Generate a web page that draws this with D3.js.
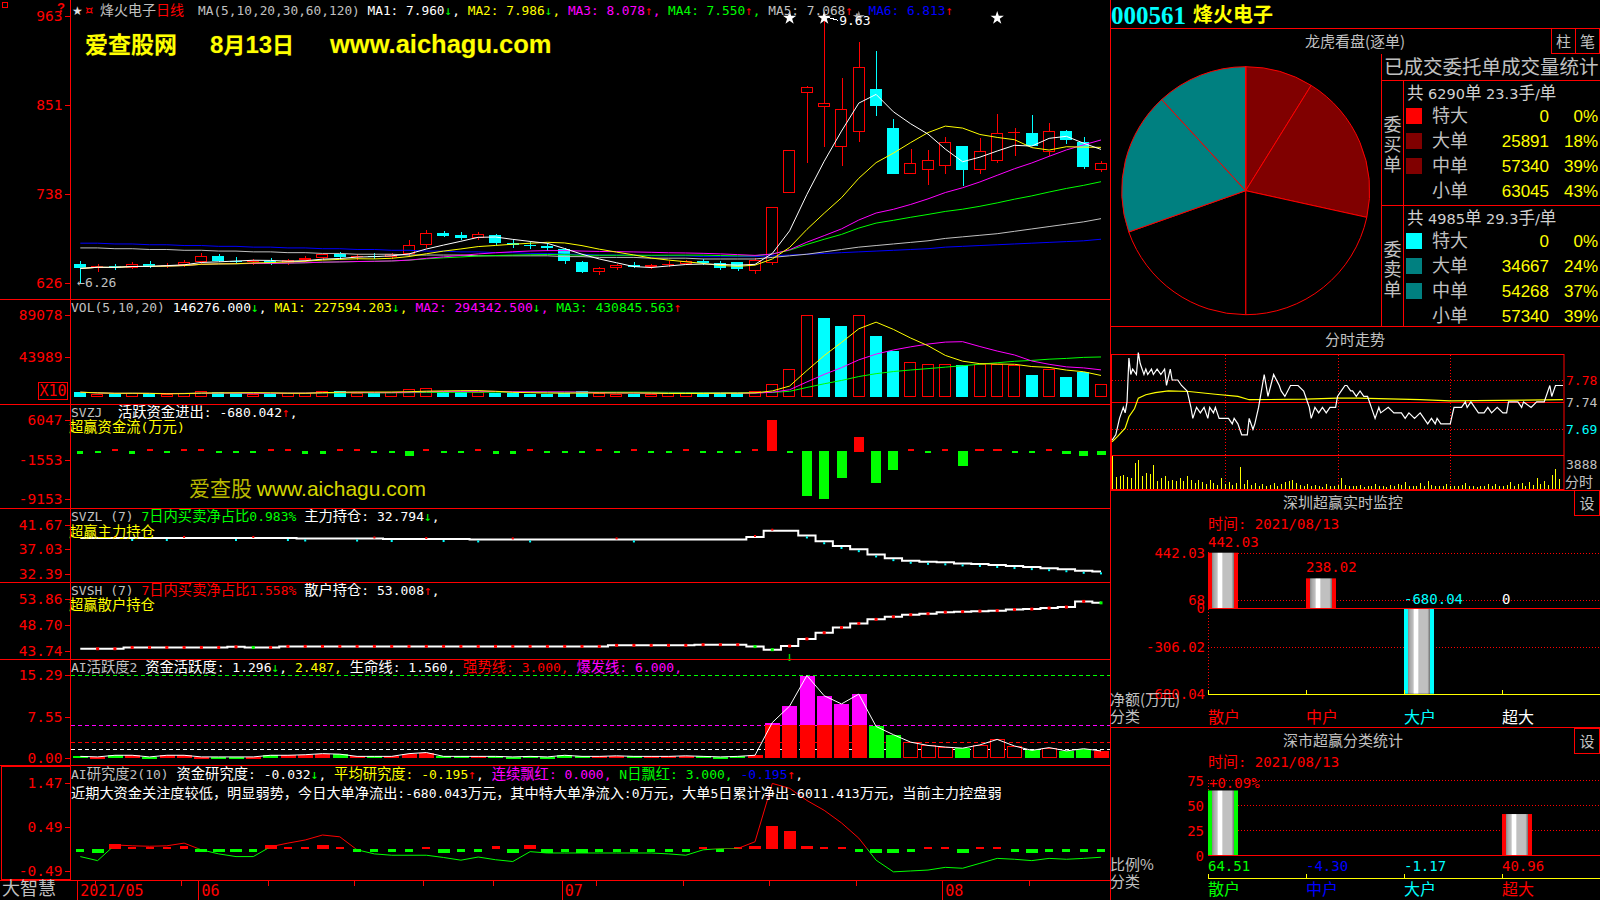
<!DOCTYPE html>
<html><head><meta charset="utf-8">
<script src="https://cdn.jsdelivr.net/npm/d3@7/dist/d3.min.js"></script>
<style>html,body{margin:0;padding:0;background:#000;overflow:hidden}svg{display:block}</style>
</head><body><svg id="chart" width="1600" height="900"></svg>
<script>
// ================= DATA =================
const stockCode = "000561", stockName = "烽火电子";
const monthLabels = ["2021/05","06","07","08"];
const monthStart = [0,7,28,50];
const weekStart = [1,6,11,16,20,24,30,35,40,45,55];

const opens  = [6.50,6.44,6.47,6.45,6.50,6.47,6.49,6.52,6.60,6.54,6.52,6.54,6.51,6.55,6.57,6.62,6.58,6.60,6.58,6.62,6.74,6.89,6.86,6.82,6.86,6.76,6.74,6.72,6.68,6.52,6.40,6.44,6.48,6.46,6.48,6.50,6.53,6.51,6.52,6.41,6.51,7.40,8.66,8.48,7.98,8.17,8.71,8.22,7.64,7.69,7.74,7.99,7.69,7.80,8.16,8.15,7.91,8.18,8.04,7.69];
const highs  = [6.53,6.50,6.50,6.52,6.53,6.51,6.55,6.63,6.62,6.58,6.56,6.57,6.56,6.60,6.64,6.65,6.62,6.63,6.64,6.80,6.93,6.92,6.90,6.90,6.88,6.80,6.78,6.76,6.70,6.54,6.46,6.50,6.52,6.50,6.53,6.55,6.56,6.53,6.52,6.57,7.22,7.94,8.75,9.63,8.85,9.30,9.19,8.33,7.95,7.94,8.10,7.99,8.09,8.39,8.22,8.38,8.28,8.19,8.10,7.80];
const lows   = [6.26,6.40,6.42,6.43,6.45,6.44,6.46,6.50,6.52,6.50,6.48,6.49,6.49,6.52,6.55,6.56,6.55,6.56,6.56,6.60,6.70,6.84,6.80,6.80,6.74,6.70,6.68,6.66,6.50,6.38,6.36,6.42,6.44,6.43,6.46,6.48,6.49,6.42,6.41,6.37,6.49,7.40,7.77,7.98,7.74,8.04,8.37,7.64,7.64,7.50,7.64,7.48,7.64,7.77,7.86,7.99,7.86,8.01,7.70,7.66];
const closes = [6.44,6.47,6.45,6.50,6.47,6.49,6.52,6.60,6.54,6.52,6.54,6.51,6.55,6.57,6.62,6.58,6.60,6.58,6.62,6.74,6.89,6.85,6.82,6.87,6.76,6.74,6.72,6.70,6.54,6.40,6.44,6.48,6.46,6.48,6.50,6.53,6.51,6.44,6.43,6.55,7.22,7.94,8.74,8.53,8.46,8.99,8.49,7.64,7.77,7.81,8.04,7.69,7.93,8.16,8.17,7.99,8.18,8.06,7.72,7.78];
const ma60  = [6.70,6.70,6.69,6.69,6.68,6.68,6.67,6.67,6.66,6.66,6.65,6.65,6.64,6.64,6.63,6.63,6.62,6.62,6.62,6.61,6.61,6.61,6.61,6.60,6.60,6.60,6.60,6.60,6.59,6.59,6.58,6.58,6.58,6.57,6.57,6.57,6.56,6.56,6.56,6.56,6.58,6.60,6.62,6.65,6.68,6.71,6.73,6.75,6.77,6.79,6.82,6.84,6.86,6.88,6.91,6.94,6.97,7.00,7.03,7.07];
const ma120 = [6.76,6.76,6.75,6.75,6.74,6.74,6.73,6.73,6.72,6.72,6.71,6.71,6.70,6.70,6.69,6.69,6.68,6.68,6.67,6.67,6.66,6.66,6.65,6.65,6.64,6.64,6.63,6.63,6.62,6.62,6.61,6.61,6.61,6.60,6.60,6.60,6.59,6.59,6.59,6.59,6.60,6.61,6.62,6.63,6.64,6.65,6.66,6.67,6.68,6.69,6.71,6.72,6.73,6.74,6.75,6.76,6.77,6.78,6.79,6.81];
const priceTicks = [9.63,8.51,7.38,6.26];
const maLegend = [["MA1: 7.960","↓"],["MA2: 7.986","↓"],["MA3: 8.078","↑"],["MA4: 7.550","↑"],["MA5: 7.068","↑"],["MA6: 6.813","↑"]];
const topMarks = [41,43,53];
const grayMarks = [45];

const volumes = [52000,38000,30000,42000,35000,30000,45000,60000,52000,40000,38000,35000,42000,48000,70000,65000,45000,40000,50000,85000,96000,60000,52000,55000,48000,40000,38000,35000,45000,60000,42000,38000,35000,36000,40000,42000,38000,45000,40000,60000,146000,303000,887000,853000,775000,887000,663000,495000,382000,360000,360000,349000,360000,360000,349000,236000,303000,214000,270000,146276];
const volTicks = [890780,439890];
const volLegend = [["VOL(5,10,20) ",""],["146276.000","↓"],["MA1: 227594.203","↓"],["MA2: 294342.500","↓"],["MA3: 430845.563","↑"]];

const svzj = [-500,-150,150,-500,150,-150,180,200,-150,-150,-150,150,150,-500,-500,150,150,-150,-150,-1000,250,-150,-150,150,-500,-500,150,-150,-150,-400,150,-150,150,-150,-150,150,-150,-400,-150,150,6000,-150,-8590,-9150,-5280,2870,-6250,-3720,150,-150,150,-2900,300,300,-150,-300,150,-600,-1000,-680];
const svzjTicks = [6047,-1553,-9153];

const svzl = [39.12,39.12,39.13,39.12,39.12,39.11,39.12,39.12,39.12,39.11,39.12,39.12,39.11,39.02,39.02,39.02,39.01,39.02,38.92,38.92,38.93,38.92,38.92,38.84,38.84,38.85,38.84,38.84,38.84,38.84,38.84,38.85,38.84,38.84,38.84,38.84,38.84,38.84,38.84,39.30,40.50,40.50,39.60,38.50,37.60,37.00,36.00,35.30,34.80,34.60,34.50,34.30,34.20,34.00,33.80,33.60,33.40,33.20,32.90,32.79];
const svzlTicks = [41.67,37.03,32.39];
const svsh = [44.08,44.08,44.08,44.34,44.34,44.34,44.34,44.34,44.34,44.45,44.34,44.34,44.54,44.54,44.54,44.54,44.54,44.54,44.54,44.54,44.54,44.54,44.54,44.54,44.54,44.54,44.54,44.54,44.54,44.54,44.54,44.74,44.74,44.74,44.74,44.74,44.87,44.87,44.87,44.50,43.90,44.60,46.00,47.20,48.20,49.00,49.80,50.30,50.70,50.90,51.20,51.30,51.40,51.50,51.70,51.80,52.00,52.20,53.30,53.01];
const svshTicks = [53.86,48.70,43.74];

const active = [0.3,0.2,0.5,0.5,0.2,0.5,0.5,0.2,0.2,0.2,0.2,0.5,0.5,0.6,0.8,0.7,0.3,0.3,0.3,0.8,1.0,0.3,0.3,0.3,0.3,0.2,0.3,0.2,0.5,0.3,0.3,0.4,0.3,0.3,0.3,0.4,0.3,0.2,0.3,0.5,6.5,9.5,15.1,11.4,9.9,11.7,5.77,4.27,2.9,2.3,2.0,1.8,2.4,3.4,2.2,1.4,1.9,1.3,1.7,1.296];
const activeTicks = [15.29,7.55,0];
const activeLevels = [15.29,6.0,3.0,1.56];
const activeSignal = [41];

const research = [-0.03,-0.1,0.1,0.03,0.02,0.02,0.05,-0.08,-0.08,-0.06,-0.03,0.08,0.04,0.03,0.08,0.04,-0.03,-0.03,-0.03,-0.03,0.03,-0.1,-0.03,-0.03,0.05,-0.1,0.07,-0.1,-0.03,-0.1,-0.03,-0.03,-0.03,-0.03,-0.03,-0.03,0.03,-0.03,0.02,0.06,0.5,0.39,0.06,0.02,0.03,-0.03,-0.1,-0.1,-0.03,0.02,0.03,-0.1,0.02,0.02,-0.03,-0.1,-0.03,-0.03,-0.03,-0.032];
const researchAvg = [-0.18,-0.27,0.08,0.06,0.05,0.06,0.12,-0.03,-0.12,-0.18,-0.18,0.04,0.12,0.19,0.30,0.26,-0.03,-0.12,-0.15,-0.15,-0.15,-0.20,-0.26,-0.19,-0.25,-0.29,-0.07,-0.10,-0.10,-0.10,-0.10,-0.10,-0.10,-0.10,-0.12,-0.15,-0.03,0.0,0.0,0.15,1.45,1.34,1.07,0.85,0.57,0.23,-0.26,-0.52,-0.50,-0.48,-0.42,-0.44,-0.33,-0.22,-0.24,-0.27,-0.22,-0.24,-0.22,-0.195];
const researchTicks = [1.47,0.49,-0.49];
const researchNote = "近期大资金关注度较低，明显弱势，今日大单净流出:-680.043万元，其中特大单净流入:0万元，大单5日累计净出-6011.413万元，当前主力控盘弱";

// right column
const orderLabels = ["特大","大单","中单","小单"];
const buyOrders = [0,25891,57340,63045];
const buyPct = ["0%","18%","39%","43%"];
const sellOrders = [0,34667,54268,57340];
const sellPct = ["0%","24%","37%","39%"];
const buySummary = "共 6290单 23.3手/单";
const sellSummary = "共 4985单 29.3手/单";

const tickMin   = [0,2,4,6,7,8,9,10,11,13,14,15,17,18,19,21,22,24,26,28,29,31,32,35,37,40,42,43,45,47,49,51,52,54,55,57,62,64,65,67,69,72,73,75,76,78,80,81,83,86,89,90,92,95,99,102,103,105,106,108,110,112,114,116,119,120,122,124,125,127,128,130,132,134,136,138,140,142,143,147,150,154,156,158,161,164,166,168,170,172,173,175,180,182,186,188,189,191,193,195,198,200,202,205,208,210,211,216,218,219,223,226,230,233,234,236,240];
const tickPrice = [7.67,7.68,7.71,7.73,7.72,7.74,7.82,7.79,7.80,7.79,7.83,7.81,7.79,7.80,7.79,7.80,7.79,7.80,7.79,7.80,7.77,7.80,7.78,7.78,7.77,7.76,7.73,7.71,7.73,7.72,7.73,7.71,7.73,7.72,7.73,7.71,7.71,7.70,7.71,7.70,7.68,7.68,7.71,7.69,7.70,7.73,7.77,7.79,7.75,7.79,7.77,7.76,7.75,7.77,7.77,7.76,7.75,7.73,7.71,7.73,7.72,7.73,7.72,7.73,7.73,7.75,7.76,7.77,7.77,7.76,7.76,7.75,7.76,7.75,7.75,7.73,7.71,7.73,7.72,7.73,7.72,7.72,7.71,7.72,7.71,7.72,7.71,7.70,7.71,7.70,7.71,7.70,7.70,7.73,7.73,7.74,7.73,7.74,7.73,7.72,7.72,7.73,7.72,7.73,7.72,7.72,7.74,7.74,7.73,7.74,7.73,7.74,7.74,7.77,7.75,7.77,7.77];
const avgMin   = [0,3,7,9,12,14,18,23,30,41,55,67,73,103,120,131,164,180,240];
const avgPrice = [7.667,7.677,7.692,7.713,7.728,7.747,7.753,7.757,7.760,7.759,7.754,7.750,7.744,7.745,7.747,7.747,7.744,7.742,7.744];
const minuteVol = [3888,1400,1500,1600,1400,1300,3000,3400,1500,1900,1700,2800,900,1300,1500,900,1100,900,1300,900,1500,1000,700,1100,800,600,1000,700,500,1300,600,800,500,700,2600,600,1000,500,700,400,600,400,500,700,300,600,800,900,1100,700,500,400,600,300,500,300,250,600,400,300,500,1300,500,300,400,300,500,250,400,300,600,300,400,250,500,300,600,500,800,300,400,300,700,400,900,500,300,400,300,600,300,400,300,500,700,400,300,200,300,400,600,300,600,400,300,500,800,300,600,700,400,800,500,1300,600,900,500,1600,2300,1200];
const intraTicks = [7.78,7.74,7.69];
const intraVolMax = 3888;

const szCats = ["散户","中户","大户","超大"];
const szNet = [442.03,238.02,-680.04,0];
const szTicks = [442.03,68,0,-306.02,-680.04];
const ratioCats = ["散户","中户","大户","超大"];
const ratioVals = [64.51,-4.30,-1.17,40.96];
const ratioTicks = [75,50,25,0];
const dateText = "时间: 2021/08/13";

// ================= STYLE =================
const MONO = "'DejaVu Sans Mono', monospace";
const CJK = "'Noto Sans CJK SC', sans-serif";
const SANS = "'Liberation Sans', Arial, sans-serif";
const GRAY='#c0c0c0', WHITE='#ffffff', YELLOW='#ffff00', MAG='#ff00ff', GREEN='#00ff00', RED='#ff0000', BLUE='#0000ff', CYAN='#00ffff', TEAL='#008080', DRED='#800000';

const svg = d3.select('#chart');
svg.append('rect').attr('width',1600).attr('height',900).attr('fill','#000');
const defs = svg.append('defs');

const CJK_RE = /([\u2E80-\u9FFF\u3000-\u303F\uFF00-\uFFEF]+)/;
function rich(parent, x, y, segs, opt={}) {
  const size = opt.size || 13;
  const t = parent.append('text').attr('x',x).attr('y',y)
    .attr('font-family', opt.font || MONO).attr('font-size', size).style('white-space','pre');
  if (opt.anchor) t.attr('text-anchor', opt.anchor);
  segs.forEach(([s,c]) => s.split(CJK_RE).forEach((p,i) => {
    if (!p) return;
    const ts = t.append('tspan').attr('fill', c).text(p);
    if (i % 2) ts.attr('font-family', CJK).attr('font-size', opt.cjk || size*1.1);
  }));
  return t;
}
function seg(g, x1,y1,x2,y2,col,dash,w) {
  const l = g.append('line').attr('x1',x1).attr('y1',y1).attr('x2',x2).attr('y2',y2)
    .attr('stroke',col||RED).attr('stroke-width',w||1).attr('shape-rendering','crispEdges');
  if (dash) l.attr('stroke-dasharray',dash);
  return l;
}
const sma = (arr,n) => arr.map((_,i) => d3.mean(arr.slice(Math.max(0,i-n+1), i+1)));
const arrowCol = a => a === "↑" ? RED : GREEN;

// ================= LEFT CHARTS =================
const N = closes.length;
const px = d3.scaleBand().domain(d3.range(N)).range([71.65,1109.65]).paddingInner(0.28).paddingOuter(0.14);
const bw = px.bandwidth();
const cx = i => px(i) + bw/2;

function leftAxis(scale, ticks, fmt) {
  const g = svg.append('g').attr('transform','translate(70.5,0)')
    .call(d3.axisLeft(scale).tickValues(ticks).tickSize(6).tickPadding(2).tickFormat(fmt));
  g.select('.domain').remove();
  g.selectAll('line').attr('stroke',RED).attr('shape-rendering','crispEdges');
  g.selectAll('text').attr('fill',RED).attr('font-family',MONO).attr('font-size',14.5);
  return g;
}

// ---- main price panel ----
const yP = d3.scaleLinear().domain([6.26,9.63]).range([282.7,16.3]);
leftAxis(yP, priceTicks, d => (d*100).toFixed(0));
const gC = svg.append('g').attr('shape-rendering','crispEdges');
closes.forEach((c,i) => {
  const o = opens[i], up = c >= o;
  const top = Math.round(yP(Math.max(o,c))), bot = Math.round(yP(Math.min(o,c)));
  const xm = Math.round(cx(i)) + 0.5, x0 = Math.round(px(i));
  const w = Math.round(bw);
  if (up) {
    seg(gC, xm, yP(highs[i]), xm, top, RED);
    seg(gC, xm, bot, xm, yP(lows[i]), RED);
    gC.append('rect').attr('x',x0+0.5).attr('y',top+0.5).attr('width',w-1).attr('height',Math.max(0,bot-top-1))
      .attr('fill','#000').attr('stroke',RED);
    if (bot - top < 2) seg(gC, x0, top+0.5, x0+w, top+0.5, RED);
  } else {
    seg(gC, xm, yP(highs[i]), xm, yP(lows[i]), CYAN);
    gC.append('rect').attr('x',x0).attr('y',top).attr('width',w).attr('height',Math.max(1,bot-top)).attr('fill',CYAN);
  }
});
const maSeries = [[sma(closes,5),WHITE],[sma(closes,10),YELLOW],[sma(closes,20),MAG],[sma(closes,30),GREEN],[ma60,GRAY],[ma120,BLUE]];
const lineP = d3.line().x((d,i)=>cx(i)).y(d=>yP(d));
maSeries.slice().reverse().forEach(([s,col]) => svg.append('path').attr('d',lineP(s)).attr('fill','none').attr('stroke',col).attr('stroke-width',1));

// top marks
topMarks.forEach(i => svg.append('path').attr('transform',`translate(${cx(i)},18)`).attr('d',d3.symbol(d3.symbolStar,55)()).attr('fill',WHITE));
grayMarks.forEach(i => svg.append('path').attr('transform',`translate(${cx(i)},17)`).attr('d',d3.symbol(d3.symbolStar,45)()).attr('fill','#909090'));
const hiIdx = d3.maxIndex(highs), loIdx = d3.minIndex(lows);
seg(svg, cx(hiIdx)+3, yP(highs[hiIdx])+1, cx(hiIdx)+14, yP(highs[hiIdx])+4, WHITE);
rich(svg, cx(hiIdx)+15, yP(highs[hiIdx])+9, [[highs[hiIdx].toFixed(2), WHITE]]);
rich(svg, cx(loIdx)-3, yP(lows[loIdx])+4, [["←"+lows[loIdx].toFixed(2), GRAY]]);

// watermark
const wm = svg.append('g').attr('font-weight','bold').attr('fill',YELLOW).attr('stroke','#202000').attr('stroke-width',1).style('paint-order','stroke');
wm.append('text').attr('x',85).attr('y',53).attr('font-family',CJK).attr('font-size',23).text("爱查股网");
const wm2 = wm.append('text').attr('x',210).attr('y',53).attr('font-family',SANS).attr('font-size',24);
wm2.append('tspan').text("8"); wm2.append('tspan').attr('font-family',CJK).attr('font-size',22).text("月");
wm2.append('tspan').text("13"); wm2.append('tspan').attr('font-family',CJK).attr('font-size',22).text("日");
wm.append('text').attr('x',330).attr('y',53).attr('font-family',SANS).attr('font-size',25.5).text("www.aichagu.com");

// main title row
svg.append('text').attr('x',72).attr('y',14.5).attr('fill','#e0e0e0').attr('font-size',12).attr('font-family','DejaVu Sans').text("★");
svg.append('text').attr('x',85).attr('y',13.5).attr('fill',RED).attr('font-size',13).attr('font-family','DejaVu Sans').text("¤");
rich(svg, 100, 14.5, [[stockName, GRAY],["日线", RED]], {cjk:14});
const maCols = [WHITE,YELLOW,MAG,GREEN,GRAY,BLUE];
const maSegs = [["MA(5,10,20,30,60,120) ", GRAY]];
maLegend.forEach(([t,a],k) => { maSegs.push([t, maCols[k]], [a, arrowCol(a)]); if (k < maLegend.length-1) maSegs.push([", ", maCols[k]]); });
rich(svg, 198, 14.5, maSegs, {size:12.8});
svg.append('rect').attr('x',2.5).attr('y',2.5).attr('width',5).attr('height',5).attr('fill','none').attr('stroke',RED);
svg.append('text').attr('x',57).attr('y',12).attr('fill',RED).attr('font-weight','bold').attr('font-size',13).attr('font-family',SANS).text("?");

// ---- volume panel (colour by close vs previous close) ----
const yV = d3.scaleLinear().domain([0,890780]).range([397,315]);
leftAxis(yV, volTicks, d => Math.round(d/10));
const gV = svg.append('g').attr('shape-rendering','crispEdges');
volumes.forEach((v,i) => {
  const up = i === 0 ? closes[i] >= opens[i] : closes[i] >= closes[i-1];
  const y = Math.round(yV(v)), h = Math.max(1, Math.round(yV(0)) - y), x0 = Math.round(px(i)), w = Math.round(bw);
  if (up) gV.append('rect').attr('x',x0+0.5).attr('y',y+0.5).attr('width',w-1).attr('height',Math.max(1,h-1)).attr('fill','#000').attr('stroke',RED);
  else gV.append('rect').attr('x',x0).attr('y',y).attr('width',w).attr('height',h).attr('fill',CYAN);
});
const lineV = d3.line().x((d,i)=>cx(i)).y(d=>yV(d));
[[sma(volumes,20),GREEN],[sma(volumes,10),MAG],[sma(volumes,5),YELLOW]].forEach(([s,c]) =>
  svg.append('path').attr('d',lineV(s)).attr('fill','none').attr('stroke',c));
const volCols = [GRAY, WHITE, YELLOW, MAG, GREEN];
const vSegs = [];
volLegend.forEach(([t,a],k) => { vSegs.push([t, volCols[k]]); if (a) { vSegs.push([a, arrowCol(a)]); if (k < volLegend.length-1) vSegs.push([", ", volCols[k]]); } });
rich(svg, 71, 311.5, vSegs);
svg.append('rect').attr('x',38.5).attr('y',382.5).attr('width',29).attr('height',17).attr('fill','none').attr('stroke',RED);
svg.append('text').attr('x',53).attr('y',396).attr('text-anchor','middle').attr('fill',RED).attr('font-family',MONO).attr('font-size',15).text("X10");

// ---- SVZJ ----
const yZ = d3.scaleLinear().domain([-9153,6047]).range([499,420]);
leftAxis(yZ, svzjTicks, d => d);
const gZ = svg.append('g').attr('shape-rendering','crispEdges');
svzj.forEach((v,i) => {
  const y0 = yZ(0), y1 = yZ(v);
  const h = Math.max(2, Math.abs(y1-y0));
  const w = v > -600 && v < 300 ? 6 : (Math.abs(v) < 1500 ? 9 : 10);
  gZ.append('rect').attr('x',Math.round(cx(i)-w/2)).attr('y',Math.round(v>0 ? y0-h : y0)).attr('width',w).attr('height',Math.round(h))
    .attr('fill', v > 0 ? RED : GREEN);
});
rich(svg, 71, 416.5, [["SVZJ  ", GRAY],["活跃资金进出: -680.042", WHITE],["↑", RED],[",", WHITE]]);
rich(svg, 69, 432, [["超赢资金流(万元)", YELLOW]]);
const wmk = svg.append('text').attr('x',189).attr('y',496).attr('font-size',21).attr('fill','#d6d600');
wmk.append('tspan').attr('font-family',CJK).attr('fill','#b8b800').text("爱查股 ");
wmk.append('tspan').attr('font-family',SANS).text("www.aichagu.com");

// ---- SVZL ----
const yL = d3.scaleLinear().domain([32.39,41.67]).range([573.5,524.5]);
leftAxis(yL, svzlTicks, d => d.toFixed(2));
svg.append('path').attr('d', d3.line().curve(d3.curveStep).x((d,i)=>cx(i)).y(d=>yL(d))(svzl)).attr('fill','none').attr('stroke',WHITE).attr('stroke-width',2);
svzl.forEach((v,i) => { if (i && v !== svzl[i-1]) svg.append('rect').attr('x',cx(i)-1).attr('y',yL(v)+ (v>svzl[i-1]?-2:1)).attr('width',2).attr('height',2).attr('fill', v>svzl[i-1]?RED:CYAN); });
rich(svg, 71, 521, [["SVZL (7) ", GRAY],["7日内买卖净占比0.983%", GREEN],[" 主力持仓: 32.794", WHITE],["↓", GREEN],[",", WHITE]]);
rich(svg, 69, 536.5, [["超赢主力持仓", YELLOW]]);

// ---- SVSH ----
const yH = d3.scaleLinear().domain([43.74,53.86]).range([650.5,598.5]);
leftAxis(yH, svshTicks, d => d.toFixed(2));
svg.append('path').attr('d', d3.line().curve(d3.curveStep).x((d,i)=>cx(i)).y(d=>yH(d))(svsh)).attr('fill','none').attr('stroke',WHITE).attr('stroke-width',2);
svsh.forEach((v,i) => { if (i) svg.append('rect').attr('x',cx(i)-1.5).attr('y',yH(v)-1.5).attr('width',3).attr('height',3).attr('fill', v>=svsh[i-1]?RED:GREEN); });
rich(svg, 71, 594.5, [["SVSH (7) ", GRAY],["7日内买卖净占比1.558%", RED],[" 散户持仓: 53.008", WHITE],["↑", RED],[",", WHITE]]);
rich(svg, 69, 610, [["超赢散户持仓", YELLOW]]);

// ---- AI活跃度2 ----
const yA = d3.scaleLinear().domain([0,15.29]).range([758,674.5]);
leftAxis(yA, activeTicks, d => d.toFixed(2));
const levelCols = [GREEN, MAG, RED, WHITE];
activeLevels.forEach((lv,k) => seg(svg, 71, Math.round(yA(lv))+0.5, 1110, Math.round(yA(lv))+0.5, levelCols[k], "4,3"));
const gA = svg.append('g').attr('shape-rendering','crispEdges');
active.forEach((v,i) => {
  const up = closes[i] >= opens[i];
  const x0 = Math.round(px(i)), w = Math.round(bw+3), xs = x0 - 1;
  const y0 = Math.round(yA(0));
  if (!up) { gA.append('rect').attr('x',xs).attr('y',Math.round(yA(v))).attr('width',w).attr('height',Math.max(2,y0-Math.round(yA(v)))).attr('fill',GREEN); return; }
  if (v > activeLevels[3] && v <= activeLevels[1]) {
    gA.append('rect').attr('x',xs+0.5).attr('y',Math.round(yA(v))+0.5).attr('width',w-1).attr('height',y0-Math.round(yA(v))-1).attr('fill','#000').attr('stroke',RED);
    return;
  }
  const vr = Math.min(v, activeLevels[1]);
  gA.append('rect').attr('x',xs).attr('y',Math.round(yA(vr))).attr('width',w).attr('height',Math.max(2,y0-Math.round(yA(vr)))).attr('fill',RED);
  if (v > activeLevels[1]) gA.append('rect').attr('x',xs).attr('y',Math.round(yA(v))).attr('width',w).attr('height',Math.round(yA(activeLevels[1]))-Math.round(yA(v))).attr('fill',MAG);
});
svg.append('path').attr('d', d3.line().x((d,i)=>cx(i)).y(d=>yA(d))(active)).attr('fill','none').attr('stroke',WHITE);
activeSignal.forEach(i => svg.append('text').attr('x',cx(i)).attr('y',661).attr('text-anchor','middle').attr('fill',GREEN).attr('font-family',MONO).attr('font-size',13).text("↓"));
rich(svg, 71, 672, [["AI活跃度2 ", GRAY],["资金活跃度: 1.296", WHITE],["↓", GREEN],[", ", WHITE],["2.487,", YELLOW],[" 生命线: 1.560,", WHITE],[" 强势线: 3.000,", RED],[" 爆发线: 6.000,", MAG]]);

// ---- AI研究度2 ----
const yR = d3.scaleLinear().domain([-0.49,1.47]).range([870.5,782.5]);
leftAxis(yR, researchTicks, d => d.toFixed(2));
const gR = svg.append('g').attr('shape-rendering','crispEdges');
research.forEach((v,i) => {
  const y0 = Math.round(yR(0)), y1 = Math.round(yR(v));
  const h = Math.max(v>0?2:3, Math.abs(y1-y0));
  const w = Math.abs(v) >= 0.06 ? Math.round(bw) : 8;
  gR.append('rect').attr('x',Math.round(cx(i)-w/2)).attr('y', v>0 ? y0-h : y0).attr('width',w).attr('height',h).attr('fill', v>0?RED:GREEN);
});
const zR = yR(0);
defs.append('clipPath').attr('id','cAbove').append('rect').attr('x',70).attr('y',765).attr('width',1040).attr('height',zR-765);
defs.append('clipPath').attr('id','cBelow').append('rect').attr('x',70).attr('y',zR).attr('width',1040).attr('height',880-zR);
const rPath = d3.line().x((d,i)=>cx(i)).y(d=>yR(d))(researchAvg);
svg.append('path').attr('d',rPath).attr('clip-path','url(#cAbove)').attr('fill','none').attr('stroke',RED);
svg.append('path').attr('d',rPath).attr('clip-path','url(#cBelow)').attr('fill','none').attr('stroke',GREEN);
rich(svg, 71, 779, [["AI研究度2(10) ", GRAY],["资金研究度: -0.032", WHITE],["↓", GREEN],[", ", WHITE],["平均研究度: -0.195", YELLOW],["↑", RED],[", ", WHITE],["连续飘红: 0.000,", MAG],[" N日飘红: 3.000,", GREEN],[" -0.195", BLUE],["↑", RED],[",", WHITE]]);
rich(svg, 71, 798, [[researchNote, WHITE]], {cjk:14.2});
svg.append('rect').attr('x',1.5).attr('y',766.5).attr('width',69).attr('height',113).attr('fill','none').attr('stroke',RED);

// ---- frames ----
const gF = svg.append('g');
[299,404,508,582,659,765,880].forEach(y => seg(gF, 0, y+0.5, 1110, y+0.5, RED));
seg(gF, 70.5, 0, 70.5, 880, RED);
seg(gF, 1110.5, 0, 1110.5, 900, RED);

// ---- date axis ----
monthStart.forEach((i,k) => {
  seg(svg, Math.round(cx(i))-2.5, 880, Math.round(cx(i))-2.5, 900, RED);
  svg.append('text').attr('x',cx(i)).attr('y',896).attr('fill',RED).attr('font-family',MONO).attr('font-size',15).text(monthLabels[k]);
});
weekStart.forEach(i => seg(svg, Math.round(cx(i))-2.5, 880, Math.round(cx(i))-2.5, 886, RED));
svg.append('text').attr('x',2).attr('y',895).attr('fill',GRAY).attr('font-family',CJK).attr('font-size',18).text("大智慧");

// ================= RIGHT COLUMN =================
const R = svg.append('g');
R.append('text').attr('x',1111).attr('y',24).attr('fill',CYAN).attr('font-family',"'Liberation Serif', serif").attr('font-weight','bold').attr('font-size',25).text(stockCode);
R.append('text').attr('x',1193).attr('y',22).attr('fill',YELLOW).attr('font-family',CJK).attr('font-weight','bold').attr('font-size',20).text(stockName);
seg(R, 1110, 28.5, 1600, 28.5, RED);
R.append('text').attr('x',1355).attr('y',47).attr('text-anchor','middle').attr('fill',GRAY).attr('font-family',CJK).attr('font-size',15).text("龙虎看盘(逐单)");
[["柱",1551],["笔",1575]].forEach(([t,x]) => {
  R.append('rect').attr('x',x+0.5).attr('y',28.5).attr('width',24).attr('height',25).attr('fill','none').attr('stroke',RED);
  R.append('text').attr('x',x+12.5).attr('y',47).attr('text-anchor','middle').attr('fill',GRAY).attr('font-family',CJK).attr('font-size',15).text(t);
});
seg(R, 1381.5, 54, 1381.5, 326, RED);
R.append('text').attr('x',1384).attr('y',74).attr('fill',GRAY).attr('font-family',CJK).attr('font-size',19.5).text("已成交委托单成交量统计");
seg(R, 1381, 80.5, 1600, 80.5, RED);
seg(R, 1403.5, 80, 1403.5, 326, RED);
seg(R, 1381, 205.5, 1600, 205.5, RED);
seg(R, 1110, 326.5, 1600, 326.5, RED);

// pie
const pieG = R.append('g').attr('transform','translate(1245.7,190.7)');
const arc = d3.arc().innerRadius(0).outerRadius(124);
const buyCols = [RED, DRED, DRED, '#000'];
const sellCols = [CYAN, TEAL, TEAL, '#000'];
d3.pie().sort(null).startAngle(0).endAngle(Math.PI)(buyOrders).forEach((a,k) =>
  pieG.append('path').attr('d',arc(a)).attr('fill',buyCols[k]).attr('stroke',RED).attr('stroke-width',1));
const sellRev = sellOrders.slice().reverse(), sellColsRev = sellCols.slice().reverse();
d3.pie().sort(null).startAngle(Math.PI).endAngle(2*Math.PI)(sellRev).forEach((a,k) =>
  pieG.append('path').attr('d',arc(a)).attr('fill',sellColsRev[k]).attr('stroke',RED).attr('stroke-width',1));

// order tables
function orderTable(y0, summary, vals, pcts, cols, title) {
  rich(R, 1407, y0, [[summary, '#d0d0d0']], {font:"'DejaVu Sans', sans-serif", size:14.5, cjk:16.5});
  title.split('').forEach((ch,k) => R.append('text').attr('x',1392.5).attr('y',y0+32+k*20).attr('text-anchor','middle').attr('fill',GRAY).attr('font-family',CJK).attr('font-size',18).text(ch));
  vals.forEach((v,k) => {
    const yc = y0 + 17 + k*25;
    if (k < 3) R.append('rect').attr('x',1406).attr('y',yc-8).attr('width',16).attr('height',16).attr('fill',cols[k]);
    R.append('text').attr('x',1432).attr('y',yc+6).attr('fill',GRAY).attr('font-family',CJK).attr('font-size',18).text(orderLabels[k]);
    R.append('text').attr('x',1549).attr('y',yc+6).attr('text-anchor','end').attr('fill',YELLOW).attr('font-family',SANS).attr('font-size',17).text(v);
    R.append('text').attr('x',1598).attr('y',yc+6).attr('text-anchor','end').attr('fill',YELLOW).attr('font-family',SANS).attr('font-size',17).text(pcts[k]);
  });
}
orderTable(99, buySummary, buyOrders, buyPct, buyCols, "委买单");
orderTable(224, sellSummary, sellOrders, sellPct, sellCols, "委卖单");

// ---- intraday ----
R.append('text').attr('x',1355).attr('y',345).attr('text-anchor','middle').attr('fill',GRAY).attr('font-family',CJK).attr('font-size',15).text("分时走势");
const mx = d3.scaleLinear().domain([0,240]).range([1112,1563]);
const my = d3.scaleLinear().domain([7.69,7.78]).range([429.3,380]);
const mv = d3.scaleLinear().domain([0,intraVolMax]).range([489,455.5]);
R.append('rect').attr('x',1111.5).attr('y',354.5).attr('width',452.5).attr('height',135).attr('fill','none').attr('stroke',RED);
seg(R, 1111, 455.5, 1564, 455.5, RED);
[60,120,180].forEach(m => seg(R, Math.round(mx(m))+0.5, 355, Math.round(mx(m))+0.5, 489, RED, "1,2"));
[7.78,7.69].forEach(p => seg(R, 1112, Math.round(my(p))+0.5, 1563, Math.round(my(p))+0.5, RED, "1,2"));
seg(R, 1111, Math.round(my(7.74))+0.5, 1564, Math.round(my(7.74))+0.5, RED);
const gMV = R.append('g').attr('shape-rendering','crispEdges');
minuteVol.forEach((v,k) => gMV.append('rect').attr('x',Math.round(mx(k*2))).attr('y',mv(v)).attr('width',1).attr('height',mv(0)-mv(v)).attr('fill',YELLOW));
R.append('path').attr('d', d3.line().x((d,k)=>mx(avgMin[k])).y(d=>my(d))(avgPrice)).attr('fill','none').attr('stroke',YELLOW).attr('stroke-width',1.2);
R.append('path').attr('d', d3.line().x((d,k)=>mx(tickMin[k])).y(d=>my(d))(tickPrice)).attr('fill','none').attr('stroke',WHITE).attr('stroke-width',1.2);
const tickCols = [RED, GRAY, CYAN];
intraTicks.forEach((p,k) => R.append('text').attr('x',1566).attr('y',my(p)+5).attr('fill',tickCols[k]).attr('font-family',MONO).attr('font-size',13).text(p.toFixed(2)));
R.append('text').attr('x',1566).attr('y',469).attr('fill',GRAY).attr('font-family',MONO).attr('font-size',13).text(intraVolMax);
R.append('text').attr('x',1565).attr('y',487).attr('fill',GRAY).attr('font-family',CJK).attr('font-size',14).text("分时");
seg(R, 1110, 490.5, 1600, 490.5, RED);

// bar gradient
function grad(id, edge) {
  const g = defs.append('linearGradient').attr('id',id);
  [[0,edge],[0.12,edge],[0.12,'#808080'],[0.2,'#a8a8a8'],[0.3,'#c0c0c0'],[0.35,'#ffffff'],[0.45,'#ffffff'],[0.5,'#c0c0c0'],[0.78,'#c0c0c0'],[0.85,'#808080'],[0.88,edge],[1,edge]]
    .forEach(([o,c]) => g.append('stop').attr('offset',o).attr('stop-color',c));
}
grad('gRed',RED); grad('gCyan',CYAN); grad('gGreen',GREEN);

// ---- 深圳超赢实时监控 ----
R.append('text').attr('x',1343).attr('y',508).attr('text-anchor','middle').attr('fill',GRAY).attr('font-family',CJK).attr('font-size',15).text("深圳超赢实时监控");
R.append('rect').attr('x',1574.5).attr('y',490.5).attr('width',25).attr('height',25).attr('fill','none').attr('stroke',RED);
R.append('text').attr('x',1587).attr('y',509).attr('text-anchor','middle').attr('fill',GRAY).attr('font-family',CJK).attr('font-size',15).text("设");
rich(R, 1208, 529, [[dateText, RED]], {size:14, cjk:15});
const sx = d3.scaleBand().domain(szCats).range([1208,1600]);
const sy = d3.scaleLinear().domain([-680.04,442.03]).range([693.8,552.7]);
szTicks.forEach(t => {
  R.append('text').attr('x',1205).attr('y',sy(t)+5).attr('text-anchor','end').attr('fill',RED).attr('font-family',MONO).attr('font-size',14).text(t === 68 || t === 0 ? t : t.toFixed(2));
  if (t !== 0) seg(R, 1208, Math.round(sy(t))+0.5, 1600, Math.round(sy(t))+0.5, RED, "1,2");
});
seg(R, 1208.5, 552, 1208.5, 694, RED, "1,2");
const szCol = v => v > 0 ? RED : (v < 0 ? CYAN : WHITE);
szNet.forEach((v,k) => {
  const x0 = sx(szCats[k]), w = 30;
  const yt = Math.min(sy(v), sy(0)), h = Math.abs(sy(v)-sy(0));
  if (h > 0) R.append('rect').attr('x',x0).attr('y',yt).attr('width',w).attr('height',h).attr('fill', v>0?'url(#gRed)':'url(#gCyan)');
  R.append('text').attr('x',x0).attr('y', v > 0 ? sy(v)-6 : sy(0)-4).attr('fill',szCol(v)).attr('font-family',MONO).attr('font-size',14).text(v === 0 ? "0" : v.toFixed(2));
  R.append('text').attr('x',x0).attr('y',723).attr('fill',szCol(v)).attr('font-family',CJK).attr('font-size',16).text(szCats[k]);
  seg(R, x0+0.5, 690, x0+0.5, 694, YELLOW);
});
seg(R, 1208, Math.round(sy(0))+0.5, 1600, Math.round(sy(0))+0.5, RED);
seg(R, 1208, 694.5, 1600, 694.5, YELLOW);
R.append('text').attr('x',1110).attr('y',705).attr('fill',GRAY).attr('font-family',CJK).attr('font-size',15).text("净额(万元)");
R.append('text').attr('x',1110).attr('y',722).attr('fill',GRAY).attr('font-family',CJK).attr('font-size',15).text("分类");
seg(R, 1110, 727.5, 1600, 727.5, RED);

// ---- 深市超赢分类统计 ----
R.append('text').attr('x',1343).attr('y',746).attr('text-anchor','middle').attr('fill',GRAY).attr('font-family',CJK).attr('font-size',15).text("深市超赢分类统计");
R.append('rect').attr('x',1574.5).attr('y',728.5).attr('width',25).attr('height',25).attr('fill','none').attr('stroke',RED);
R.append('text').attr('x',1587).attr('y',747).attr('text-anchor','middle').attr('fill',GRAY).attr('font-family',CJK).attr('font-size',15).text("设");
rich(R, 1208, 767, [[dateText, RED]], {size:14, cjk:15});
const rx = d3.scaleBand().domain(ratioCats).range([1208,1600]);
const ry = d3.scaleLinear().domain([0,75]).range([855,780]).clamp(true);
ratioTicks.forEach(t => {
  R.append('text').attr('x',1204).attr('y',ry(t)+6).attr('text-anchor','end').attr('fill',RED).attr('font-family',MONO).attr('font-size',14).text(t);
  if (t) seg(R, 1208, Math.round(ry(t))+0.5, 1600, Math.round(ry(t))+0.5, RED, "1,2");
});
seg(R, 1208.5, 780, 1208.5, 855, RED, "1,2");
R.append('text').attr('x',1209).attr('y',788).attr('fill',RED).attr('font-family',MONO).attr('font-size',14).text("+0.09%");
const ratioCols = [GREEN, BLUE, CYAN, RED];
const ratioGrad = ['url(#gGreen)', null, null, 'url(#gRed)'];
ratioVals.forEach((v,k) => {
  const x0 = rx(ratioCats[k]);
  const h = ry(0) - ry(v);
  if (h > 0) R.append('rect').attr('x',x0).attr('y',ry(v)).attr('width',30).attr('height',h).attr('fill',ratioGrad[k] || ratioCols[k]);
  R.append('text').attr('x',x0).attr('y',871).attr('fill',ratioCols[k]).attr('font-family',MONO).attr('font-size',14).text(v.toFixed(2));
  R.append('text').attr('x',x0).attr('y',895).attr('fill',ratioCols[k]).attr('font-family',CJK).attr('font-size',16).text(ratioCats[k]);
  seg(R, x0+0.5, 874, x0+0.5, 878, YELLOW);
});
seg(R, 1208, 855.5, 1600, 855.5, RED);
seg(R, 1208, 878.5, 1600, 878.5, YELLOW);
R.append('text').attr('x',1110).attr('y',870).attr('fill',GRAY).attr('font-family',CJK).attr('font-size',15).text("比例%");
R.append('text').attr('x',1110).attr('y',887).attr('fill',GRAY).attr('font-family',CJK).attr('font-size',15).text("分类");
</script></body></html>
